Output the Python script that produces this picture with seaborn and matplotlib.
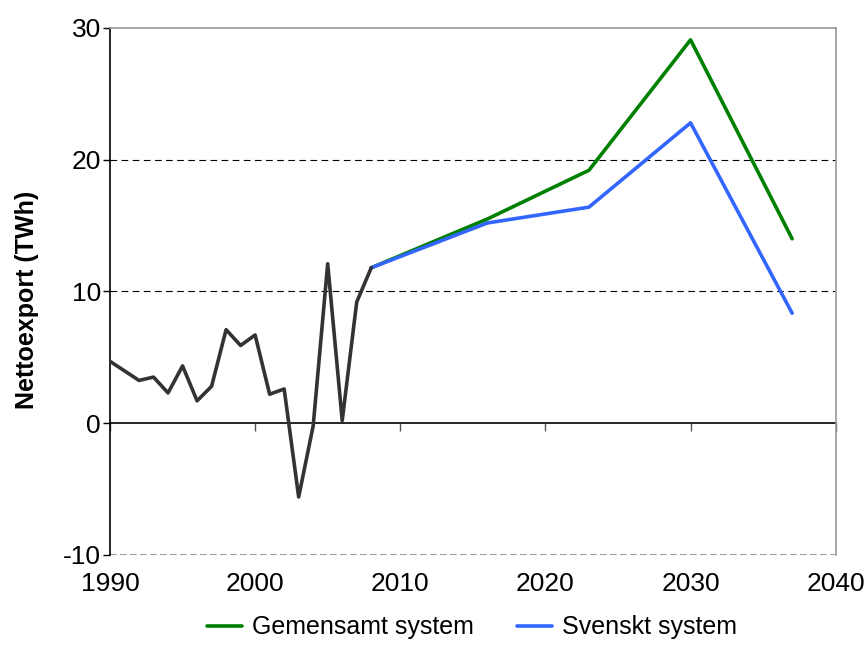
import matplotlib
matplotlib.use("Agg")
import matplotlib.pyplot as plt
import seaborn as sns
import pandas as pd

# Historical net export
hist_years = [1990, 1992, 1993, 1994, 1995, 1996, 1997, 1998, 1999, 2000,
              2001, 2002, 2003, 2004, 2005, 2006, 2007, 2008]
hist_values = [4.7, 3.25, 3.5, 2.3, 4.35, 1.7, 2.8, 7.1, 5.9, 6.7,
               2.2, 2.6, -5.6, -0.2, 12.1, 0.2, 9.2, 11.8]

# Scenarios
scen_years = [2008, 2016, 2023, 2030, 2037]
gemensamt = [11.8, 15.5, 19.2, 29.1, 14.0]
svenskt = [11.8, 15.2, 16.4, 22.8, 8.35]
series_names = ["Gemensamt system", "Svenskt system"]
series_colors = ["#008000", "#3366FF"]

x_ticks = [1990, 2000, 2010, 2020, 2030, 2040]
y_ticks = [-10, 0, 10, 20, 30]
y_label = "Nettoexport (TWh)"

sns.set_theme(style="white")
plt.rcParams["font.family"] = ["Liberation Sans", "DejaVu Sans"]
plt.rcParams["axes.unicode_minus"] = False
plt.rcParams["text.color"] = "black"
plt.rcParams["axes.labelcolor"] = "black"
plt.rcParams["xtick.color"] = "black"
plt.rcParams["ytick.color"] = "black"

hist_df = pd.DataFrame({"year": hist_years, "value": hist_values})
scen_df = pd.DataFrame({
    "year": scen_years * 2,
    "value": gemensamt + svenskt,
    "series": [series_names[0]] * len(scen_years) + [series_names[1]] * len(scen_years),
})

fig = plt.figure(figsize=(8.66, 6.66), dpi=100)
ax = fig.add_axes([0.127, 0.1667, 0.838, 0.7913])

# gridlines
for yv in [10, 20]:
    ax.axhline(yv, color="black", lw=0.8, ls=(0, (6, 4)), zorder=0)
ax.axhline(-10, color="#888888", lw=1.2, ls=(0, (4, 2)), zorder=0)

sns.lineplot(data=scen_df, x="year", y="value", hue="series",
             palette=dict(zip(series_names, series_colors)), lw=2.6, ax=ax, zorder=3)
sns.lineplot(data=hist_df, x="year", y="value", color="#333333", lw=2.6,
             ax=ax, legend=False, zorder=4)

ax.set_xlim(1990, 2040)
ax.set_ylim(-10, 30)
ax.set_xticks(x_ticks)
ax.set_yticks(y_ticks)
ax.set_xlabel("")
ax.set_ylabel(y_label, fontsize=18, fontweight="bold", color="black")
ax.yaxis.set_label_coords(-0.098, 0.485)

for s in ["top", "right"]:
    ax.spines[s].set_color("#999999")
    ax.spines[s].set_linewidth(1.2)
ax.spines["bottom"].set_visible(False)
ax.spines["left"].set_color("black")
ax.spines["left"].set_linewidth(1.2)

ax.tick_params(axis="x", length=0, pad=12, labelsize=19, labelcolor="black")
ax.tick_params(axis="y", direction="out", length=5, width=1, color="black",
               labelsize=19, pad=1.5, left=True, labelcolor="black")

# zero axis with tick marks
sec = ax.secondary_xaxis(0.25)
sec.set_xticks(x_ticks)
sec.tick_params(axis="x", direction="out", length=6, width=1, color="#555555", labelbottom=False)
sec.spines["bottom"].set_color("black")
sec.spines["bottom"].set_linewidth(1.2)

handles, labels = ax.get_legend_handles_labels()
leg = ax.legend(handles, labels, loc="center", bbox_to_anchor=(0.545, 0.058),
                bbox_transform=fig.transFigure, ncol=2, frameon=False, fontsize=18,
                handlelength=1.4, handletextpad=0.4, columnspacing=1.7)
for t in leg.get_texts():
    t.set_color("black")

fig.savefig("out.png", dpi=100)
